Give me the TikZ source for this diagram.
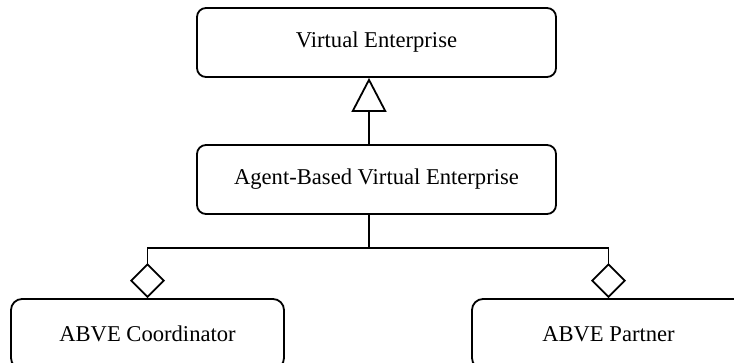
\documentclass[tikz,border=0pt]{standalone}
\usepackage{fontspec}
\setmainfont{Liberation Serif}
\usepackage{tikz}
\usetikzlibrary{arrows.meta,positioning,calc}

\tikzset{
  cls/.style={draw, line width=0.9pt, rounded corners=4.5pt, inner sep=0pt, minimum width=179.5pt, minimum height=34.5pt, font=\fontsize{11.3}{13}\selectfont},
  part/.style={cls, rounded corners=5.5pt, minimum width=136.5pt, minimum height=35pt},
  isa/.style={line width=0.9pt, -{Triangle[open, length=17pt, width=17.5pt]}},
  hasa/.style={line width=0.9pt, {Diamond[open, length=17.5pt, width=17.5pt]}-{Diamond[open, length=17.5pt, width=17.5pt]}}
}

\begin{document}
\begin{tikzpicture}[x=0.5pt, y=-0.5pt]
\useasboundingbox (0,0) rectangle (734,363); \clip (0,0) rectangle (734,363);
\node[cls] (ve) at (376.5,42.5) {Virtual Enterprise};
\node[cls] (abve) at (376.5,179.5) {Agent-Based Virtual Enterprise};
\coordinate (hub) at (369,248);
\draw[isa] (abve.north -| hub) -- (ve.south -| hub);
\foreach \n/\x/\t in {coord/147.5/ABVE Coordinator, partner/608.5/ABVE Partner} \node[part] (\n) at (\x,334) {\t};
\draw[hasa] (coord.north) |- (hub) -| (partner.north);
\draw[line width=0.9pt] (abve.south -| hub) -- (hub);
\end{tikzpicture}
\end{document}
